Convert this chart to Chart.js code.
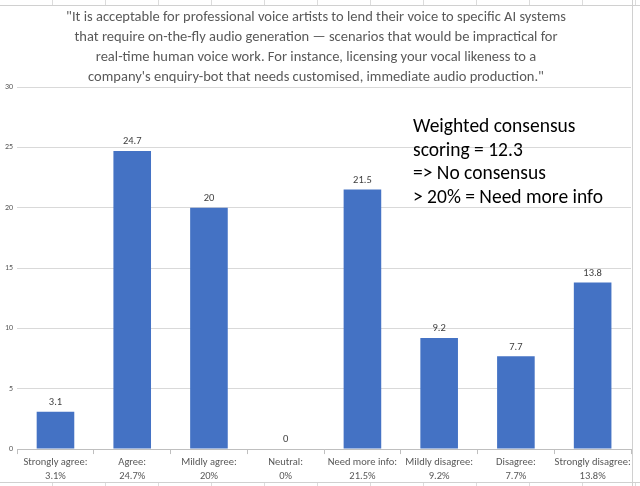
<!DOCTYPE html>
<html lang="en">
  <head>
    <meta charset="UTF-8" />
    <title>voice ai chart</title>
    <script src="https://cdn.jsdelivr.net/npm/chart.js@4.4.1/dist/chart.umd.min.js"></script>
    <style>
      body { margin: 0; background: #fff; }
      .wrap { position: relative; width: 640px; height: 486px; overflow: hidden; }
      .chartbox { position: absolute; left: 0; top: 6px; width: 632px; height: 478px; }
      /* spreadsheet cells peeking out round the chart */
      .cells { position: absolute; left: 0; width: 640px; pointer-events: none;
        background: repeating-linear-gradient(90deg, transparent 0, transparent 52px, #dcdcdc 52px, #dcdcdc 53px); }
      .cells.top { top: 0; height: 5px; border-bottom: 1px solid #d0d0d0; }
      .cells.bottom { top: 482px; height: 4px; border-top: 1px solid #d0d0d0; background-color: #fff; }
      .rightedge { position: absolute; left: 632px; top: 0; width: 1px; height: 486px; background: #d0d0d0; }
    </style>
  </head>
  <body>
    <div class="wrap">
      <div class="cells top"></div>
      <div class="chartbox"><canvas id="myChart"></canvas></div>
      <div class="cells bottom"></div>
      <div class="rightedge"></div>
    </div>

    <script>
      // data
      const categories = ["Strongly agree:", "Agree:", "Mildly agree:", "Neutral:", "Need more info:", "Mildly disagree:", "Disagree:", "Strongly disagree:"];
      const pctLabels = ["3.1%", "24.7%", "20%", "0%", "21.5%", "9.2%", "7.7%", "13.8%"];
      const values = [3.1, 24.7, 20, 0, 21.5, 9.2, 7.7, 13.8];
      const yMax = 30;
      const yStep = 5;

      const titleLines = [
        "\"It is acceptable for professional voice artists to lend their voice to specific AI systems",
        "that require on-the-fly audio generation \u2014 scenarios that would be impractical for",
        "real-time human voice work. For instance, licensing your vocal likeness to a",
        "company's enquiry-bot that needs customised, immediate audio production.\"",
      ];
      const noteLines = ["Weighted consensus", "scoring = 12.3", "=> No consensus", "> 20% = Need more info"];

      //fonts & colours
      const fontName = "Carlito, 'Liberation Sans Narrow', 'Liberation Sans', sans-serif";
      const greyText = "#595959";
      const barColor = "#4472C4";

      // value labels above the bars + the note box
      const valueLabels = {
        id: "valueLabels",
        afterDatasetsDraw(chart) {
          const c = chart.ctx;
          const meta = chart.getDatasetMeta(0);
          c.save();
          c.fillStyle = "#404040";
          c.font = "10.5px " + fontName;
          c.textAlign = "center";
          c.textBaseline = "bottom";
          meta.data.forEach((bar, i) => {
            c.fillText(String(values[i]), bar.x, bar.y - 4);
          });
          c.restore();
        },
        afterDraw(chart) {
          const c = chart.ctx;
          c.save();
          c.fillStyle = "#000";
          c.font = "19.5px " + fontName;
          c.textAlign = "left";
          c.textBaseline = "middle";
          noteLines.forEach((t, i) => {
            c.fillText(t, 413, 121 + i * 23.8);
          });
          c.restore();
        },
      };

      const config = {
        type: "bar",
        data: {
          labels: categories.map((c, i) => [c, pctLabels[i]]),
          datasets: [
            {
              data: values,
              backgroundColor: barColor,
              barPercentage: 0.49,
              categoryPercentage: 1,
            },
          ],
        },
        options: {
          responsive: true,
          maintainAspectRatio: false,
          animation: false,
          layout: { padding: { left: 1, right: 1, top: 0, bottom: 0 } },
          plugins: {
            legend: { display: false },
            tooltip: { enabled: false },
            title: {
              display: true,
              text: titleLines,
              color: greyText,
              font: { size: 14.5, family: fontName, weight: "normal", lineHeight: 1.38 },
              padding: { top: 1, bottom: 0 },
            },
          },
          scales: {
            x: {
              grid: { display: true, drawOnChartArea: false, drawTicks: true, tickLength: 5, color: "#bfbfbf", offset: true },
              border: { color: "#bfbfbf" },
              ticks: { color: greyText, font: { size: 10.5, family: fontName, lineHeight: 1.33 }, maxRotation: 0, autoSkip: false, padding: 1 },
            },
            y: {
              min: 0,
              max: yMax,
              ticks: { stepSize: yStep, color: greyText, font: { size: 8, family: fontName }, padding: 4 },
              grid: { color: "#d9d9d9", drawTicks: false },
              border: { display: false },
            },
          },
        },
        plugins: [valueLabels],
      };

      const ctx = document.getElementById("myChart").getContext("2d");
      const myChart = new Chart(ctx, config);
    </script>
  </body>
</html>
